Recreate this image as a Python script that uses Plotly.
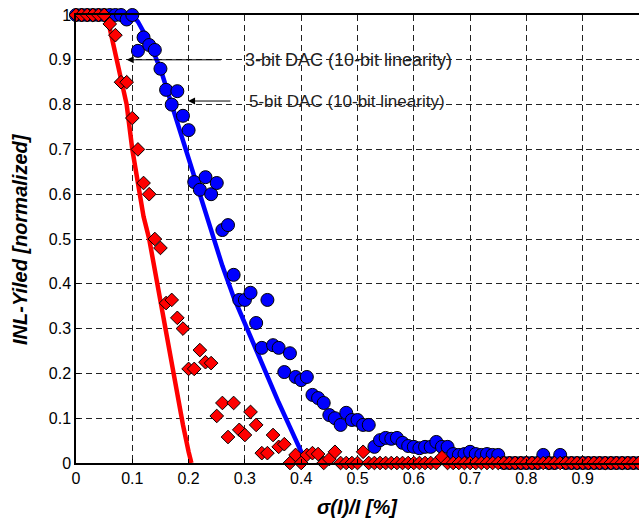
import numpy as np
import plotly.graph_objects as go

# ---- data ----
x_meas = [round(i * 0.01, 2) for i in range(101)]

red_meas = [1, 1, 1, 1, 1, 1, 0.98, 0.955, 0.85, 0.85,
            0.77, 0.70, 0.625, 0.60, 0.50, 0.48, 0.357, 0.364, 0.324, 0.30,
            0.21, 0.21, 0.252, 0.225, 0.223, 0.105, 0.134, 0.058, 0.134, 0.074,
            0.0625, 0.114, 0.085, 0.022, 0.022, 0.0625, 0.036, 0.042, 0.0, 0.018,
            0.0, 0.018, 0.022, 0.02, 0.0, 0.009, 0.025, 0, 0, 0,
            0, 0.025, 0, 0, 0, 0, 0, 0, 0, 0,
            0, 0, 0, 0, 0, 0.013, 0, 0, 0, 0,
            0, 0, 0, 0, 0, 0, 0, 0, 0, 0,
            0, 0, 0, 0, 0, 0, 0, 0, 0, 0,
            0, 0, 0, 0, 0, 0, 0, 0, 0, 0,
            0]

blue_meas = [1, 1, 1, 1, 1, 1, 1, 1, 1, 0.99,
             1.0, 0.92, 0.95, 0.933, 0.922, 0.88, 0.833, 0.80, 0.83, 0.775,
             0.743, 0.627, 0.61, 0.638, 0.60, 0.625, 0.52, 0.531, 0.42, 0.364,
             0.364, 0.38, 0.3125, 0.257, 0.364, 0.263, 0.257, 0.203, 0.245, 0.192,
             0.185, 0.192, 0.152, 0.145, 0.134, 0.107, 0.10, 0.085, 0.112, 0.096,
             0.096, 0.085, 0.085, 0.036, 0.051, 0.056, 0.054, 0.056, 0.045, 0.038,
             0.036, 0.033, 0.036, 0.036, 0.047, 0.036, 0.036, 0.02, 0.018, 0.02,
             0.025, 0.02, 0.018, 0.02, 0.018, 0.018, 0, 0, 0, 0,
             0, 0, 0, 0.018, 0, 0, 0.018, 0, 0, 0,
             0, 0, 0, 0, 0, 0, 0, 0, 0, 0,
             0]

red_fit_x = [0, 0.05, 0.06, 0.08, 0.09, 0.10, 0.11, 0.12, 0.13, 0.14, 0.15, 0.16, 0.17, 0.18, 0.19, 0.20, 0.205]
red_fit_y = [1, 1, 0.97, 0.86, 0.80, 0.70, 0.62, 0.55, 0.50, 0.43, 0.36, 0.29, 0.22, 0.15, 0.085, 0.025, 0]

blue_fit_x = [0, 0.10, 0.11, 0.13, 0.15, 0.17, 0.20, 0.22, 0.24, 0.26, 0.28, 0.30, 0.32, 0.34, 0.36, 0.38, 0.40, 0.405]
blue_fit_y = [1, 1, 0.985, 0.94, 0.88, 0.80, 0.68, 0.595, 0.515, 0.44, 0.37, 0.31, 0.25, 0.19, 0.135, 0.08, 0.025, 0]

tick_vals_x = [0, 0.1, 0.2, 0.3, 0.4, 0.5, 0.6, 0.7, 0.8, 0.9]
tick_text_x = ["0", "0.1", "0.2", "0.3", "0.4", "0.5", "0.6", "0.7", "0.8", "0.9"]
tick_vals_y = [0, 0.1, 0.2, 0.3, 0.4, 0.5, 0.6, 0.7, 0.8, 0.9, 1]
tick_text_y = ["0", "0.1", "0.2", "0.3", "0.4", "0.5", "0.6", "0.7", "0.8", "0.9", "1"]

label_3bit = "3-bit DAC (10-bit linearity)"
label_5bit = "5-bit DAC (10-bit linearity)"
x_title = "σ(I)/I [%]"
y_title = "INL-Yiled [normalized]"

FONT = "Liberation Sans, Arial, sans-serif"

fig = go.Figure()
fig.add_trace(go.Scatter(x=red_fit_x, y=red_fit_y, mode="lines",
                         line=dict(color="#FF0000", width=4.5), cliponaxis=False, showlegend=False))
fig.add_trace(go.Scatter(x=blue_fit_x, y=blue_fit_y, mode="lines",
                         line=dict(color="#0000FF", width=4.5), cliponaxis=False, showlegend=False))
fig.add_trace(go.Scatter(x=x_meas, y=blue_meas, mode="markers",
                         marker=dict(symbol="circle", size=13, color="#0000FF",
                                     line=dict(color="black", width=1)),
                         cliponaxis=False, showlegend=False))
fig.add_trace(go.Scatter(x=x_meas, y=red_meas, mode="markers",
                         marker=dict(symbol="diamond", size=10.5, color="#FF0000",
                                     line=dict(color="black", width=1)),
                         cliponaxis=False, showlegend=False))

# arrows
fig.add_annotation(x=0.09, y=0.9, ax=0.26, ay=0.9, xref="x", yref="y", axref="x", ayref="y",
                   text="", showarrow=True, arrowhead=2, arrowsize=1.4, arrowwidth=1, arrowcolor="black")
fig.add_annotation(x=0.199, y=0.808, ax=0.277, ay=0.808, xref="x", yref="y", axref="x", ayref="y",
                   text="", showarrow=True, arrowhead=2, arrowsize=1.4, arrowwidth=1, arrowcolor="black")
fig.add_annotation(x=0.297, y=0.9, xref="x", yref="y", text=label_3bit, showarrow=False,
                   xanchor="left", yanchor="middle", font=dict(family=FONT, size=18, color="#222"))
fig.add_annotation(x=0.304, y=0.808, xref="x", yref="y", text=label_5bit, showarrow=False,
                   xanchor="left", yanchor="middle", font=dict(family=FONT, size=17, color="#222"))

# axis titles
fig.add_annotation(x=0.5, y=0, xref="paper", yref="paper", yanchor="middle", yshift=-44,
                   text="<b><i>" + x_title + "</i></b>",
                   showarrow=False, font=dict(family=FONT, size=20, color="black"))
fig.add_annotation(x=0, y=0.5, xref="paper", yref="paper", text="<b><i>" + y_title + "</i></b>",
                   textangle=-90, showarrow=False, xanchor="center", xshift=-56,
                   font=dict(family=FONT, size=20, color="black"))

fig.update_layout(
    width=639, height=521,
    margin=dict(l=76, r=0, t=15, b=58),
    plot_bgcolor="white", paper_bgcolor="white",
    font=dict(family=FONT, size=16, color="black"),
    xaxis=dict(range=[0, 1], tickvals=tick_vals_x, ticktext=tick_text_x,
               showgrid=True, gridcolor="#222", griddash="6px,4px", gridwidth=1,
               showline=True, linecolor="black", linewidth=1.5, mirror=True,
               ticks="inside", ticklen=4, tickcolor="black", zeroline=False),
    yaxis=dict(range=[0, 1], tickvals=tick_vals_y, ticktext=tick_text_y,
               showgrid=True, gridcolor="#222", griddash="6px,4px", gridwidth=1,
               showline=True, linecolor="black", linewidth=1.5, mirror=False,
               ticks="inside", ticklen=4, tickcolor="black", zeroline=False),
)

fig.write_html("out.html")
